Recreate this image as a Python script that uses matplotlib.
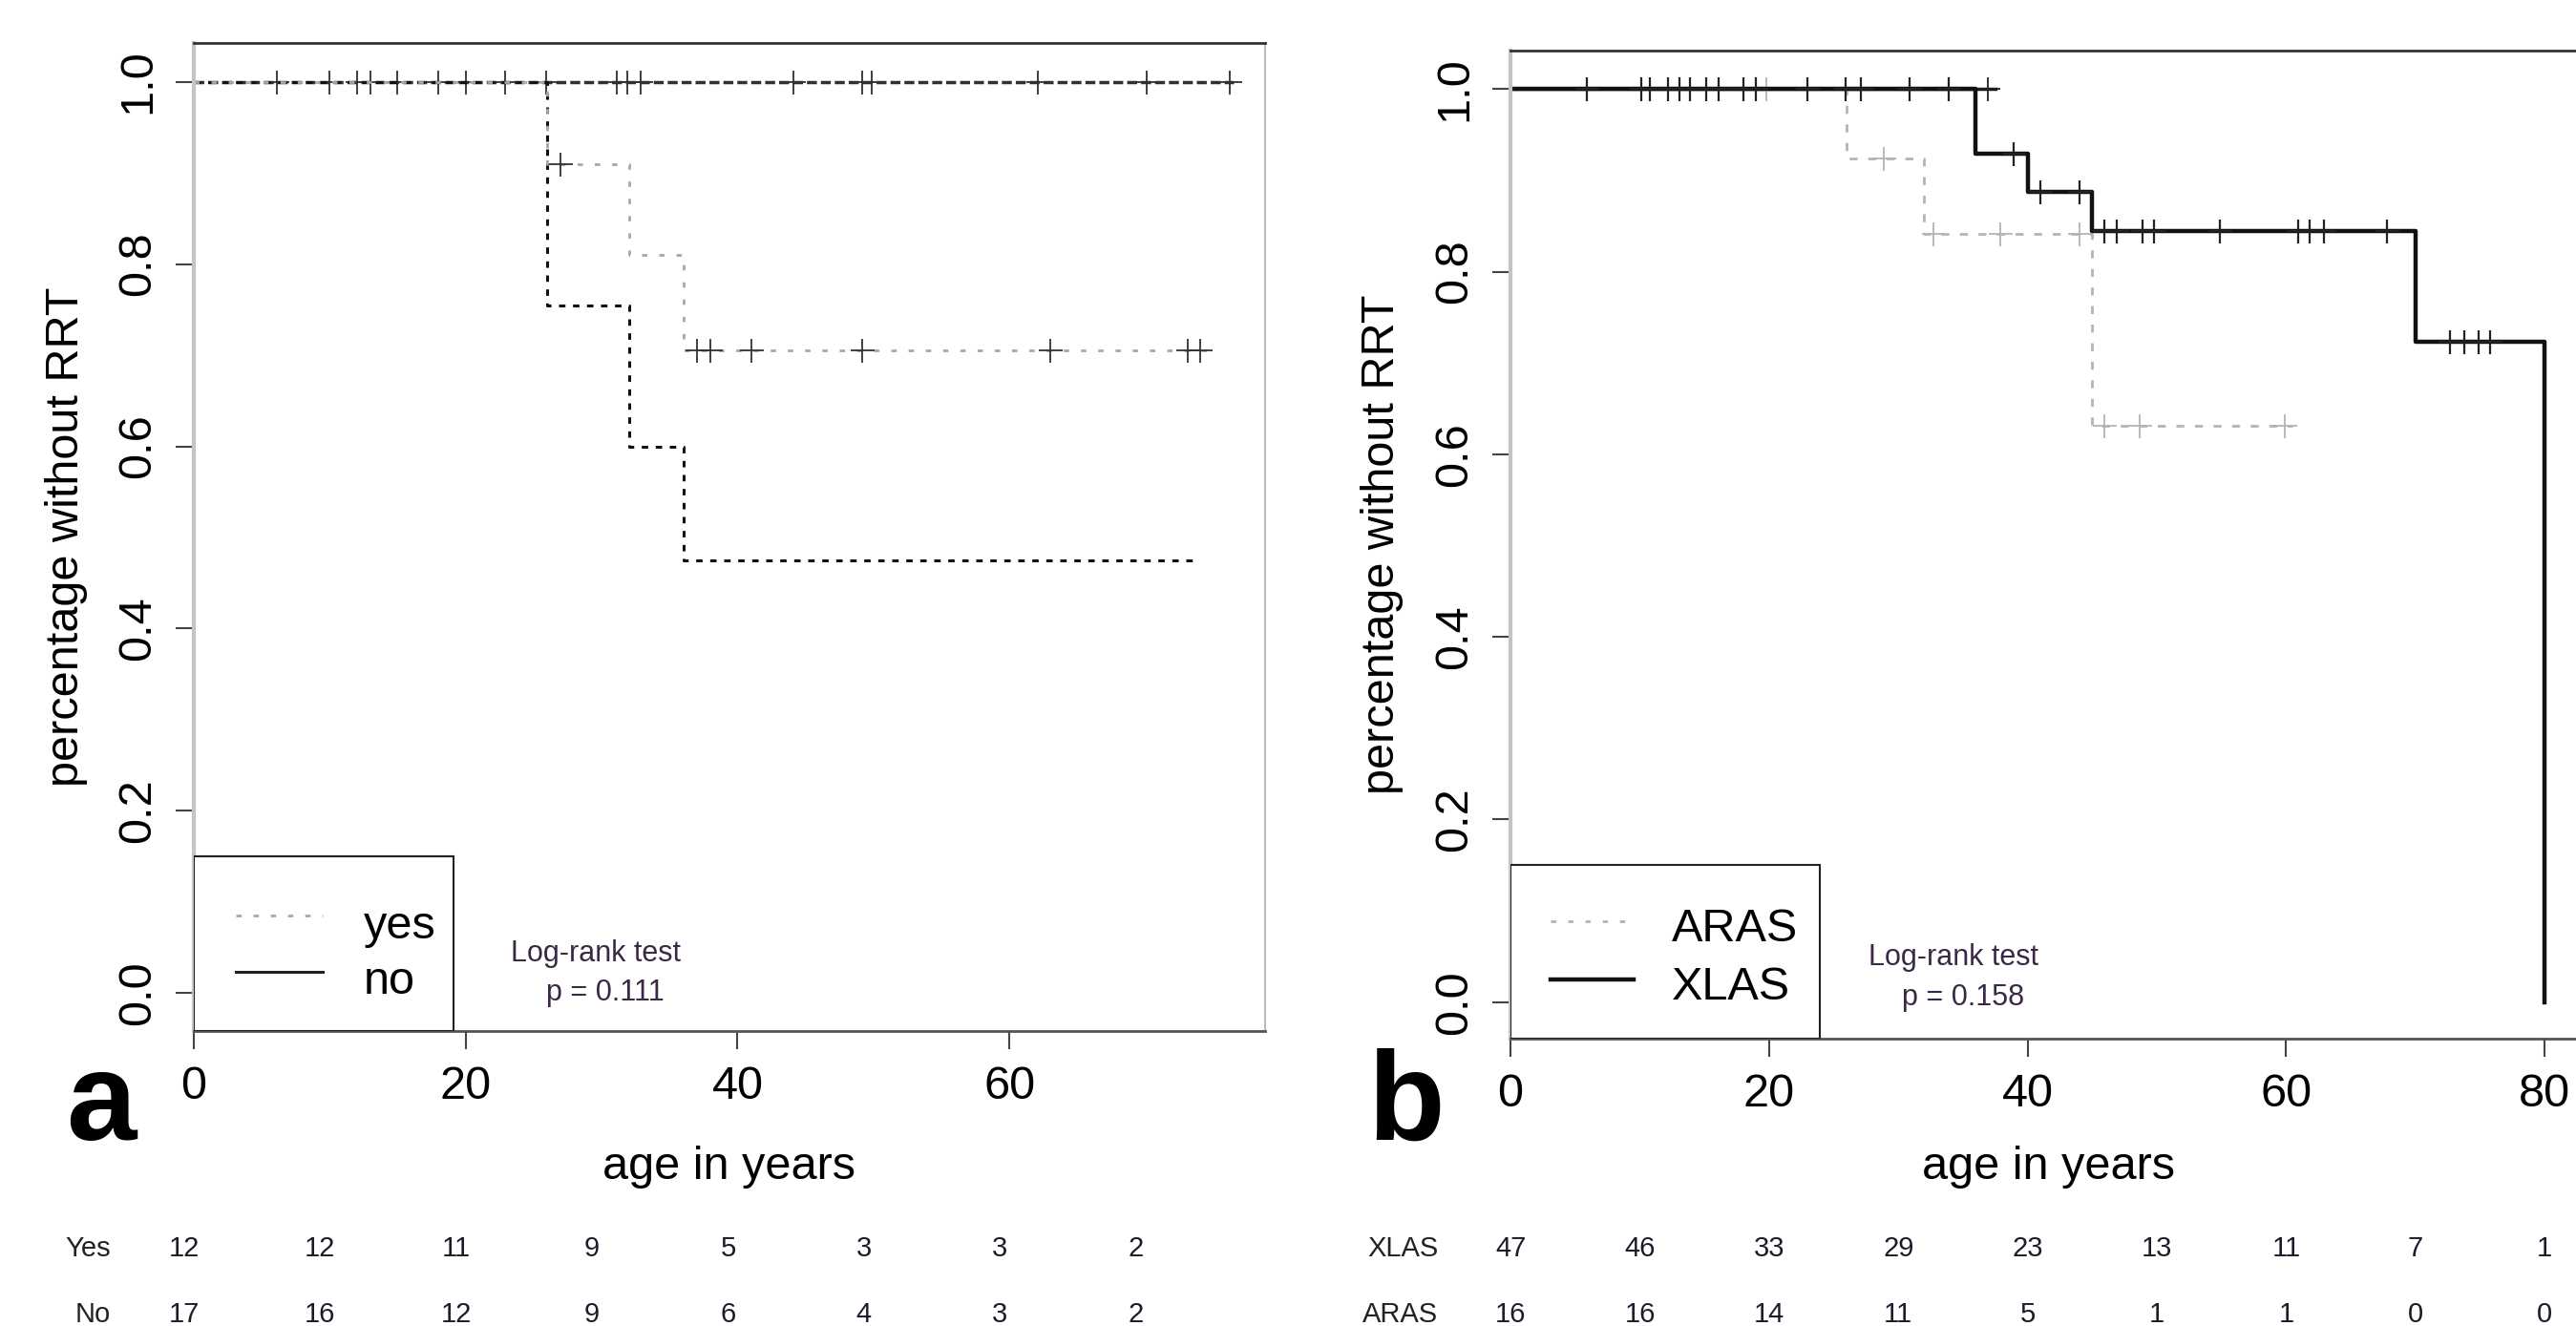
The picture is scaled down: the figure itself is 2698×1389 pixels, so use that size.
import matplotlib
matplotlib.use("Agg")
import matplotlib.pyplot as plt
from matplotlib.patches import Rectangle
from matplotlib import transforms

plt.rcParams['font.family'] = ['Liberation Sans', 'DejaVu Sans']

# ---- panel a data ----
a_top_end = 76.5
a_top_cens = [6.1, 10.0, 12.0, 13.0, 15.0, 18.0, 20.0, 22.9, 25.9, 31.1, 31.9,
              32.9, 44.1, 49.2, 49.9, 62.1, 70.1, 76.2]
yes_times = [0, 26, 32, 36]
yes_surv = [1.0, 0.91, 0.81, 0.705]
yes_end = 74.7
yes_cens_t = [27.0, 37.0, 38.0, 41.0, 49.2, 63.0, 73.1, 74.0]
yes_cens_s = [0.91, 0.705, 0.705, 0.705, 0.705, 0.705, 0.705, 0.705]
no_times = [0, 26, 32, 36]
no_surv = [1.0, 0.755, 0.60, 0.475]
no_end = 73.6

a_risk_times = [0, 10, 20, 30, 40, 50, 60, 70]
a_risk_yes = [12, 12, 11, 9, 5, 3, 3, 2]
a_risk_no = [17, 16, 12, 9, 6, 4, 3, 2]

# ---- panel b data ----
xlas_times = [0, 36, 40, 45, 70, 80]
xlas_surv = [1.0, 0.929, 0.887, 0.844, 0.723, 0.0]
xlas_cens_t = [5.9, 10.1, 10.8, 12.2, 13.1, 13.9, 15.1, 16.1, 18.0, 19.0, 23.0,
               25.9, 27.1, 30.9, 33.9, 38.9, 41.0, 44.0, 45.9, 46.9, 48.9, 49.8,
               54.9, 60.9, 61.8, 62.9, 67.8, 72.7, 73.8, 74.9, 75.8]
xlas_cens_s = [1.0] * 15 + [0.929, 0.887, 0.887] + [0.844] * 9 + [0.723] * 4
b_top_end = 37.5
b_top_cens = [36.9]
aras_times = [0, 26, 32, 45]
aras_surv = [1.0, 0.924, 0.841, 0.631]
aras_end = 60.5
aras_cens_t = [19.8, 28.9, 32.7, 37.9, 44.0, 45.9, 48.7, 59.9]
aras_cens_s = [1.0, 0.924, 0.841, 0.841, 0.841, 0.631, 0.631, 0.631]

b_risk_times = [0, 10, 20, 30, 40, 50, 60, 70, 80]
b_risk_xlas = [47, 46, 33, 29, 23, 13, 11, 7, 1]
b_risk_aras = [16, 16, 14, 11, 5, 1, 1, 0, 0]

GREY = '#a8a8a8'
TXT = '#3a2846'


def km(ax, times, surv, end, **kw):
    ax.step(list(times) + [end], list(surv) + [surv[-1]], where='post', **kw)


def style_axes(ax, xlim, ylim, xticks):
    ax.set_xlim(*xlim)
    ax.set_ylim(*ylim)
    ax.set_xticks(xticks)
    ax.set_yticks([0.0, 0.2, 0.4, 0.6, 0.8, 1.0])
    ax.set_yticklabels(['0.0', '0.2', '0.4', '0.6', '0.8', '1.0'],
                       rotation=90, va='center')
    ax.tick_params(axis='both', direction='out', length=14, width=1.5,
                   color='#444444', labelsize=35)
    ax.tick_params(axis='x', pad=12)
    ax.tick_params(axis='y', pad=12)
    ax.spines['left'].set_color('#c4c4c4')
    ax.spines['left'].set_linewidth(3)
    ax.spines['top'].set_color('#333333')
    ax.spines['top'].set_linewidth(2)
    ax.spines['bottom'].set_color('#555555')
    ax.spines['bottom'].set_linewidth(2)
    ax.spines['right'].set_color('#bbbbbb')
    ax.spines['right'].set_linewidth(1.5)
    ax.set_xlabel('age in years', fontsize=35)
    ax.set_ylabel('percentage without RRT', fontsize=35)


def legend_box(ax, width, ybot, entries):
    ax.add_patch(Rectangle((0, ybot), width, 0.15 - ybot, facecolor='white',
                           edgecolor='#222222', lw=1.5, zorder=3))
    for (label, color, ls, lw, ys, yt) in entries:
        ax.plot([3.1, 9.5], [ys, ys], color=color, ls=ls, lw=lw, zorder=4)
        ax.text(12.5, yt, label, fontsize=35, va='baseline', ha='left', zorder=4)


fig = plt.figure(figsize=(26.98, 13.89), dpi=100)
ax1 = fig.add_axes([0.0752, 0.2225, 0.4159, 0.7451])
ax2 = fig.add_axes([0.5864, 0.2167, 0.4175, 0.7451])

# ---- panel a ----
ylim_a = (-0.0414, 1.0425)
km(ax1, [0], [1.0], a_top_end, color='#303030', lw=2.5, ls=(0, (3, 1.2)))
ax1.plot(a_top_cens, [1.0] * len(a_top_cens), ls='none', marker='+', ms=18,
         mew=1.3, color='#303030')
km(ax1, no_times, no_surv, no_end, color='#111111', lw=2.2, ls=(0, (2.2, 2.6)))
km(ax1, yes_times, yes_surv, yes_end, color=GREY, lw=2, ls=(0, (2, 4.5)))
ax1.plot(yes_cens_t, yes_cens_s, ls='none', marker='+', ms=18, mew=1.3,
         color='#333333')
style_axes(ax1, (0, 78.8), ylim_a, [0, 20, 40, 60])
ax1.xaxis.set_label_coords(0.5, -0.116)
ax1.yaxis.set_label_coords(-0.099, 0.5)
legend_box(ax1, 19.1, ylim_a[0], [
    ('yes', GREY, (0, (2, 4.5)), 2, 0.085, 0.060),
    ('no', '#222222', '-', 2.2, 0.023, -0.001)])
ax1.text(29.6, 0.035, 'Log-rank test', fontsize=22, color=TXT, ha='center',
         va='baseline')
ax1.text(30.3, -0.008, 'p = 0.111', fontsize=22, color=TXT, ha='center',
         va='baseline')

# ---- panel b ----
ylim_b = (-0.04, 1.042)
km(ax2, [0], [1.0], b_top_end, color='#111111', lw=2.5)
ax2.plot(b_top_cens, [1.0], ls='none', marker='+', ms=18, mew=1.3,
         color='#222222')
km(ax2, aras_times, aras_surv, aras_end, color='#b4b4b4', lw=2,
   ls=(0, (3, 4)))
ax2.plot(aras_cens_t, aras_cens_s, ls='none', marker='+', ms=18, mew=1.3,
         color='#b4b4b4')
ax2.step(xlas_times, xlas_surv, where='post', color='#111111', lw=3.2)
ax2.plot(xlas_cens_t, xlas_cens_s, ls='none', marker='+', ms=18, mew=1.6,
         color='#222222')
style_axes(ax2, (0, 83.2), ylim_b, [0, 20, 40, 60, 80])
ax2.xaxis.set_label_coords(0.5, -0.108)
ax2.yaxis.set_label_coords(-0.0994, 0.5)
legend_box(ax2, 23.9, ylim_b[0], [
    ('ARAS', '#b4b4b4', (0, (2, 4.5)), 2, 0.089, 0.067),
    ('XLAS', '#111111', '-', 3.2, 0.0245, 0.003)])
ax2.text(34.3, 0.041, 'Log-rank test', fontsize=22, color=TXT, ha='center',
         va='baseline')
ax2.text(35.0, -0.003, 'p = 0.158', fontsize=22, color=TXT, ha='center',
         va='baseline')

# ---- numbers at risk ----
tr1 = transforms.blended_transform_factory(ax1.transData, fig.transFigure)
tr2 = transforms.blended_transform_factory(ax2.transData, fig.transFigure)
row1_y, row2_y = 0.0583, 0.0086
fig.text(-6.1, row1_y, 'Yes', transform=tr1, fontsize=21, ha='right', va='center',
         color='#222222')
fig.text(-6.1, row2_y, 'No', transform=tr1, fontsize=21, ha='right', va='center',
         color='#222222')
for t, a, b in zip(a_risk_times, a_risk_yes, a_risk_no):
    fig.text(t - 0.7, row1_y, str(a), transform=tr1, fontsize=21, ha='center',
             va='center', color='#1e1a2a')
    fig.text(t - 0.7, row2_y, str(b), transform=tr1, fontsize=21, ha='center',
             va='center', color='#1e1a2a')
fig.text(-5.6, row1_y, 'XLAS', transform=tr2, fontsize=21, ha='right',
         va='center', color='#222222')
fig.text(-5.6, row2_y, 'ARAS', transform=tr2, fontsize=21, ha='right',
         va='center', color='#222222')
for t, a, b in zip(b_risk_times, b_risk_xlas, b_risk_aras):
    fig.text(t, row1_y, str(a), transform=tr2, fontsize=21, ha='center',
             va='center', color='#1e1a2a')
    fig.text(t, row2_y, str(b), transform=tr2, fontsize=21, ha='center',
             va='center', color='#1e1a2a')

# panel letters
fig.text(0.0256, 0.1404, 'a', fontsize=95, fontweight='bold', ha='left',
         va='baseline')
fig.text(0.5308, 0.1404, 'b', fontsize=95, fontweight='bold', ha='left',
         va='baseline')

fig.savefig('out.png', dpi=100)
